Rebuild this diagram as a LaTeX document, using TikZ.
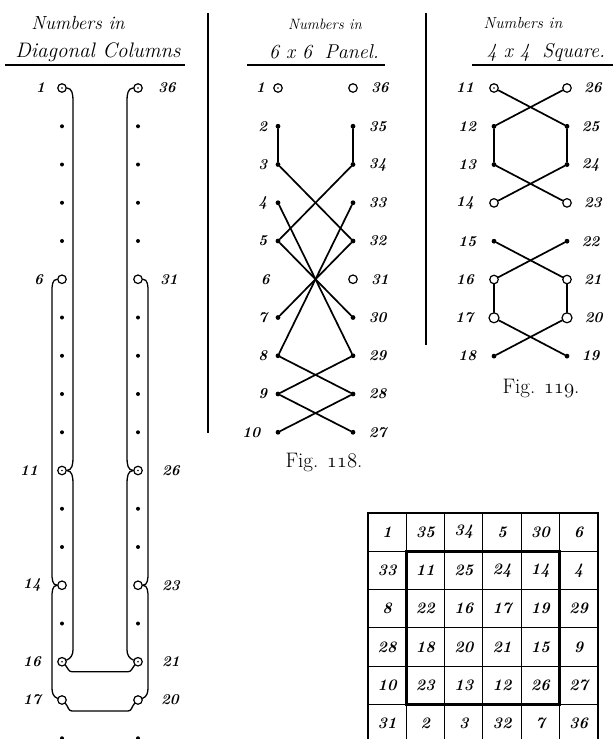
\documentclass[tikz,border=0pt]{standalone}
\usepackage{fontspec}
\usepackage{tikz}
\usetikzlibrary{positioning}

\newcommand{\osnum}[1]{{\usefont{OML}{cmm}{m}{it}#1}}

\tikzset{
  lbl/.style={font=\fontsize{15}{15}\selectfont\bfseries\itshape, inner sep=0pt},
  ttl/.style={font=\fontsize{19}{19}\selectfont\itshape, inner sep=0pt},
  figcap/.style={font=\fontsize{21}{21}\selectfont, inner sep=0pt},
  cell/.style={font=\fontsize{16}{16}\selectfont\bfseries\itshape, inner sep=0pt},
  ring/.style={circle, draw, line width=1.2pt, minimum size=8.5pt, inner sep=0pt},
  ringdot/.style={ring, path picture={\fill (path picture bounding box.center) circle (0.8pt);}},
  spot/.style={circle, fill, minimum size=4.8pt, inner sep=0pt},
  chain/.style={line width=1.3pt, line cap=round},
  link/.style={line width=1.7pt, line cap=round},
  rule/.style={line width=1.5pt},
  frame/.style={line width=2.6pt},
  gridline/.style={line width=1.1pt}
}

\begin{document}
\begin{tikzpicture}[x=1pt, y=-1pt]
  \useasboundingbox (0,0) rectangle (615,739);
  \clip (0,0) rectangle (615,739);

  % headings
  \node[ttl] (h1a) at (78,23) {Numbers in};
  \node[ttl, font=\fontsize{21}{21}\selectfont\itshape] (h1b) at (98,52) {Diagonal Columns};
  \draw[rule] (5,65) -- (185,65);
  \node[ttl, font=\fontsize{15}{15}\selectfont\itshape] (h2a) at (325,24) {Numbers in};
  \node[ttl, font=\fontsize{20}{20}\selectfont\itshape] (h2b) at (324,52) {6 x 6 \;Panel.};
  \draw[rule] (247,65) -- (385,65);
  \node[ttl, font=\fontsize{16}{16}\selectfont\itshape] (h3a) at (523,23) {Numbers in};
  \node[ttl, font=\fontsize{20}{20}\selectfont\itshape] (h3b) at (546,52) {4 x 4 \;Square.};
  \draw[rule] (472,65) -- (613,65);
  \draw[rule] (208,13) -- (208,433);
  \draw[rule] (426,13) -- (426,345);

  % diagonal columns
  \foreach \n in {2,3,4,5,7,8,9,10,12,13,15,18}
    \node[spot, minimum size=4pt] (d\n) at (62,{88+(\n-1)*38.25}) {};
  \foreach \n in {35,34,33,32,30,29,28,27,25,24,22,19}
    \node[spot, minimum size=4pt] (d\n) at (138,{88+(36-\n)*38.25}) {};
  \foreach \n in {1,11,16}
    \node[ringdot] (d\n) at (62,{88+(\n-1)*38.25}) {};
  \foreach \n in {6,14,17}
    \node[ring] (d\n) at (62,{88+(\n-1)*38.25}) {};
  \foreach \n in {36,26,21}
    \node[ringdot] (d\n) at (138,{88+(36-\n)*38.25}) {};
  \foreach \n in {31,23,20}
    \node[ring] (d\n) at (138,{88+(36-\n)*38.25}) {};

  \node[lbl, left=12pt of d1] (ld1) {1};
  \node[lbl, left=14pt of d6] (ld6) {6};
  \node[lbl, left=19pt of d11] (ld11) {11};
  \node[lbl, left=16pt of d14] (ld14) {14};
  \node[lbl, left=16pt of d16] (ld16) {16};
  \node[lbl, left=16pt of d17] (ld17) {17};
  \node[lbl, right=15pt of d36] (ld36) {36};
  \node[lbl, right=17pt of d31] (ld31) {31};
  \node[lbl, right=19pt of d26] (ld26) {26};
  \node[lbl, right=19pt of d23] (ld23) {23};
  \node[lbl, right=19pt of d21] (ld21) {21};
  \node[lbl, right=18pt of d20] (ld20) {20};

  \draw[chain] (d1.east) to[out=0,in=90] ([xshift=11pt,yshift=-12pt]d1.center)
    -- ([xshift=11pt,yshift=12pt]d11.center) to[out=-90,in=0] (d11.east);
  \draw[chain] (d11.east) to[out=0,in=90] ([xshift=11pt,yshift=-12pt]d11.center)
    -- ([xshift=11pt,yshift=12pt]d16.center) to[out=-90,in=20] (d16.20);
  \draw[chain] (d36.west) to[out=180,in=90] ([xshift=-11pt,yshift=-12pt]d36.center)
    -- ([xshift=-11pt,yshift=12pt]d26.center) to[out=-90,in=180] (d26.west);
  \draw[chain] (d26.west) to[out=180,in=90] ([xshift=-11pt,yshift=-12pt]d26.center)
    -- ([xshift=-11pt,yshift=12pt]d21.center) to[out=-90,in=160] (d21.160);
  \draw[chain] (d6.west) to[out=180,in=90] ([xshift=-10pt,yshift=-12pt]d6.center)
    -- ([xshift=-10pt,yshift=12pt]d14.center) to[out=-90,in=180] (d14.west);
  \draw[chain] (d14.west) to[out=180,in=90] ([xshift=-10pt,yshift=-12pt]d14.center)
    -- ([xshift=-10pt,yshift=12pt]d17.center) to[out=-90,in=160] (d17.160);
  \draw[chain] (d31.east) to[out=0,in=90] ([xshift=10pt,yshift=-12pt]d31.center)
    -- ([xshift=10pt,yshift=12pt]d23.center) to[out=-90,in=0] (d23.east);
  \draw[chain] (d23.east) to[out=0,in=90] ([xshift=10pt,yshift=-12pt]d23.center)
    -- ([xshift=10pt,yshift=12pt]d20.center) to[out=-90,in=20] (d20.20);
  \draw[chain] (d16.south east) to[out=-45,in=180] ([xshift=10pt,yshift=-10pt]d16.center)
    -- ([xshift=-10pt,yshift=-10pt]d21.center) to[out=0,in=-135] (d21.south west);
  \draw[chain] (d17.south east) to[out=-45,in=180] ([xshift=10pt,yshift=-11pt]d17.center)
    -- ([xshift=-10pt,yshift=-11pt]d20.center) to[out=0,in=-135] (d20.south west);

  % 6 x 6 panel
  \node[ringdot] (p1) at (278,88) {};
  \node[ring] (p36) at (353,88) {};
  \node[ring] (p31) at (353,{88+5*38.25}) {};
  \coordinate (p6) at (278,{88+5*38.25});
  \foreach \n in {2,3,4,5,7,8,9,10}
    \node[spot] (p\n) at (278,{88+(\n-1)*38.25}) {};
  \foreach \n in {35,34,33,32,30,29,28,27}
    \node[spot] (p\n) at (353,{88+(36-\n)*38.25}) {};
  \foreach \n in {1,...,9}
    \node[lbl, left=8pt of p\n] (lp\n) {\n};
  \node[lbl, left=15pt of p10] (lp10) {10};
  \foreach \n in {36,...,27}
    \node[lbl, right=13pt of p\n] (lp\n) {\n};

  \draw[link] (p2) -- (p3);
  \draw[link] (p35) -- (p34);
  \draw[link] (p3) -- (p32);
  \draw[link] (p34) -- (p5);
  \draw[link] (p4) -- (p29);
  \draw[link] (p33) -- (p8);
  \draw[link] (p5) -- (p30);
  \draw[link] (p7) -- (p32);
  \draw[link] (p8) -- (p28);
  \draw[link] (p29) -- (p9);
  \draw[link] (p9) -- (p27);
  \draw[link] (p28) -- (p10);
  \node[figcap] (f118) at (324,462) {Fig. \osnum{118}.};

  % 4 x 4 square
  \foreach \n in {12,13,15,18}
    \node[spot] (q\n) at (494,{88+(\n-11)*38.3}) {};
  \foreach \n in {25,24,22,19}
    \node[spot] (q\n) at (567,{88+(26-\n)*38.3}) {};
  \node[ringdot] (q11) at (494,88) {};
  \node[ring] (q26) at (567,88) {};
  \foreach \n in {14,16}
    \node[ring] (q\n) at (494,{88+(\n-11)*38.3}) {};
  \foreach \n in {23,21}
    \node[ring] (q\n) at (567,{88+(26-\n)*38.3}) {};
  \node[ring, minimum size=10pt] (q17) at (494,{88+6*38.3}) {};
  \node[ring, minimum size=10pt] (q20) at (567,{88+6*38.3}) {};
  \foreach \n in {11,...,18}
    \node[lbl, left=15pt of q\n] (lq\n) {\n};
  \foreach \n in {26,...,19}
    \node[lbl, right=12pt of q\n] (lq\n) {\n};

  \draw[link] (q11) -- (q25);
  \draw[link] (q26) -- (q12);
  \draw[link] (q12) -- (q13);
  \draw[link] (q25) -- (q24);
  \draw[link] (q13) -- (q23);
  \draw[link] (q24) -- (q14);
  \draw[link] (q15) -- (q21);
  \draw[link] (q22) -- (q16);
  \draw[link] (q16) -- (q17);
  \draw[link] (q21) -- (q20);
  \draw[link] (q17) -- (q19);
  \draw[link] (q20) -- (q18);
  \node[figcap] (f119) at (541,388) {Fig. \osnum{119}.};

  % magic square
  \foreach \k in {1,...,5} {
    \draw[gridline] ({368+\k*38.3},513) -- ({368+\k*38.3},745);
    \draw[gridline] (368,{513+\k*38.3}) -- (598,{513+\k*38.3});
  }
  \draw[frame] (368,513) rectangle (598,745);
  \draw[frame] (406.3,551.3) rectangle (559.5,704.5);
  \foreach \r [count=\i from 0] in {{1,35,34,5,30,6},{33,11,25,24,14,4},{8,22,16,17,19,29},
      {28,18,20,21,15,9},{10,23,13,12,26,27},{31,2,3,32,7,36}}
    \foreach \v [count=\j from 0] in \r
      \node[cell] (c\i\j) at ({368+(\j+0.5)*38.3},{513+(\i+0.5)*38.3}) {\v};
\end{tikzpicture}
\end{document}
